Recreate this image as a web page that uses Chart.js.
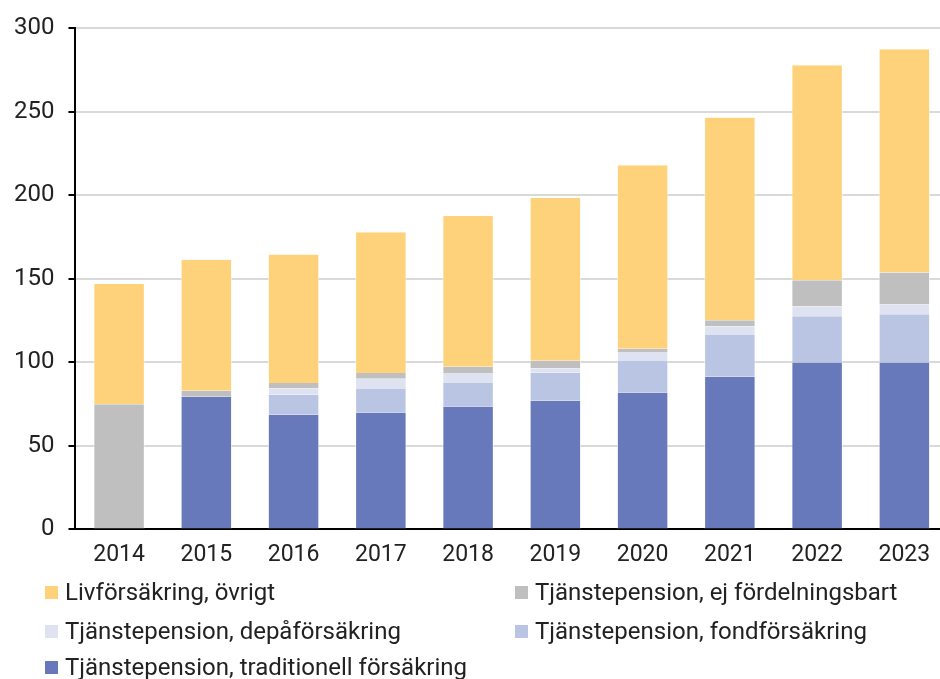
<!DOCTYPE html>
<html>
<head>
<meta charset="utf-8">
<script src="https://cdn.jsdelivr.net/npm/chart.js@4/dist/chart.umd.min.js"></script>
<style>
    body { margin: 0; background: #fff; }
    #wrap { position: relative; width: 940px; height: 679px; overflow: hidden; }
    #chart { position: absolute; left: 0; top: 0; }
    #legend { position: absolute; left: 0; top: 0; width: 940px; height: 679px; pointer-events: none;
        font-family: Roboto, sans-serif; font-size: 24px; color: #222; }
    .item { position: absolute; display: flex; align-items: center; white-space: nowrap; }
    .box { width: 13px; height: 13px; margin-right: 7px; }
</style>
</head>
<body>
<div id="wrap">
    <canvas id="chart" width="948" height="679"></canvas>
    <div id="legend"></div>
</div>
<script>
// år
let years = ["2014", "2015", "2016", "2017", "2018", "2019", "2020", "2021", "2022", "2023"];

// miljarder kr
let traditionell = [0, 79.5, 68.6, 70, 73.6, 77, 82, 91.4, 100, 100];
let fondforsakring = [0, 0, 12.1, 14.1, 14.1, 16.8, 18.9, 25, 27.6, 28.8];
let depaforsakring = [0, 0, 3.6, 6.1, 5.9, 2.6, 5.3, 5.2, 5.9, 5.9];
let ejFordelningsbart = [75, 3.5, 3.4, 3.4, 3.8, 4.6, 2, 3.6, 15.7, 19.2];
let livOvrigt = [72, 78.5, 76.9, 84.4, 90.3, 97.4, 109.8, 121.4, 128.8, 133.6];

let yTicks = [0, 50, 100, 150, 200, 250, 300];

let fontFamily = "Roboto, sans-serif";

function serie(label, data, color) {
    return {
        label: label,
        data: data,
        backgroundColor: color,
        borderColor: "rgba(255,255,255,0.6)",
        borderWidth: { left: 1, right: 1, top: 0, bottom: 0 },
        barPercentage: 0.59,
        categoryPercentage: 1
    };
}

let datasets = [
    serie("Tjänstepension, traditionell försäkring", traditionell, "#6779BA"),
    serie("Tjänstepension, fondförsäkring", fondforsakring, "#BAC5E3"),
    serie("Tjänstepension, depåförsäkring", depaforsakring, "#DFE3F1"),
    serie("Tjänstepension, ej fördelningsbart", ejFordelningsbart, "#BFBFBF"),
    serie("Livförsäkring, övrigt", livOvrigt, "#FED27A")
];

new Chart("chart", {
    type: "bar",
    data: { labels: years, datasets: datasets },
    options: {
        responsive: false,
        animation: false,
        layout: { padding: { top: 5, right: 0, left: 0, bottom: 98 } },
        plugins: {
            legend: { display: false },
            tooltip: { enabled: false }
        },
        scales: {
            x: {
                stacked: true,
                grid: { display: false, drawTicks: false },
                border: { color: "#000", width: 2 },
                ticks: { color: "#222", font: { family: fontFamily, size: 23 }, padding: 12 }
            },
            y: {
                stacked: true,
                min: 0,
                max: 300,
                afterBuildTicks: (axis) => { axis.ticks = yTicks.map(v => ({ value: v })); },
                grid: { color: "#D9D9D9", lineWidth: 2, tickColor: "#000", tickLength: 7 },
                border: { color: "#000", width: 2 },
                ticks: { color: "#222", font: { family: fontFamily, size: 24 }, padding: 14 }
            }
        }
    }
});

// legend i två kolumner, som i originalet
let legendOrder = [4, 3, 2, 1, 0];
let positions = [[45, 592], [515, 592], [45, 631], [515, 631], [45, 667]];
let legend = document.getElementById("legend");
legendOrder.forEach((idx, i) => {
    let ds = datasets[idx];
    let item = `
        <div class="item" style="left:${positions[i][0]}px; top:${positions[i][1] - 15}px; height:30px;">
            <div class="box" style="background:${ds.backgroundColor}"></div>${ds.label}
        </div>`;
    legend.insertAdjacentHTML("beforeend", item);
});
</script>
</body>
</html>
